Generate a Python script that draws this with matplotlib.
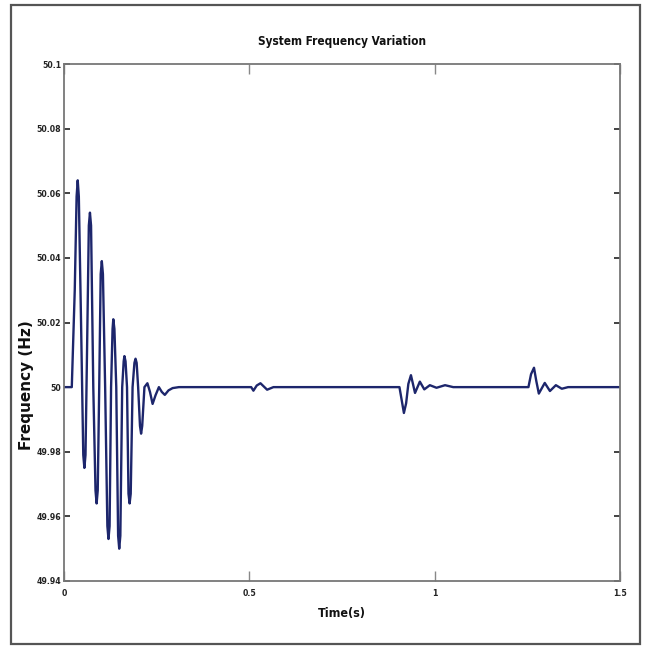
import numpy as np
import matplotlib
matplotlib.use("Agg")
import matplotlib.pyplot as plt
from matplotlib.patches import Rectangle

# values (time in s, frequency in Hz)
time_s = [0.0, 0.021, 0.029, 0.034, 0.037, 0.040, 0.046, 0.052, 0.055, 0.058,
          0.062, 0.067, 0.070, 0.073, 0.079, 0.085, 0.088, 0.091, 0.095, 0.099,
          0.102, 0.105, 0.111, 0.117, 0.120, 0.123, 0.127, 0.131, 0.133, 0.136,
          0.141, 0.146, 0.149, 0.152, 0.157, 0.161, 0.163, 0.166, 0.170, 0.174,
          0.177, 0.180, 0.185, 0.190, 0.193, 0.196, 0.200, 0.205, 0.208, 0.211,
          0.217, 0.225, 0.232, 0.239, 0.247, 0.256, 0.264, 0.272, 0.282, 0.293,
          0.31, 0.505, 0.511, 0.520, 0.530, 0.548, 0.565,
          0.905, 0.911, 0.917, 0.923, 0.929, 0.936, 0.947, 0.960, 0.972, 0.987,
          1.005, 1.028, 1.05,
          1.253, 1.260, 1.268, 1.274, 1.281, 1.297, 1.311, 1.327, 1.343, 1.36,
          1.5]
freq_hz = [50.0, 50.0, 50.03, 50.059, 50.064, 50.059, 50.02, 49.979, 49.975, 49.979,
           50.01, 50.05, 50.054, 50.05, 50.0, 49.968, 49.964, 49.968, 50.0, 50.035,
           50.039, 50.035, 50.0, 49.957, 49.953, 49.957, 50.0, 50.018, 50.021, 50.018,
           50.0, 49.954, 49.950, 49.954, 50.0, 50.008, 50.0096, 50.008, 50.0, 49.967,
           49.964, 49.967, 50.0, 50.0075, 50.0088, 50.0075, 50.0, 49.988, 49.9856, 49.988,
           50.0, 50.0012, 49.9985, 49.9948, 49.9975, 50.0, 49.9985, 49.9976, 49.999, 49.9997,
           50.0, 50.0, 49.9989, 50.0005, 50.0012, 49.9992, 50.0,
           50.0, 49.996, 49.992, 49.995, 50.001, 50.0037, 49.9982, 50.0017, 49.9993, 50.0006,
           49.9998, 50.0006, 50.0,
           50.0, 50.004, 50.006, 50.002, 49.998, 50.0013, 49.9988, 50.0006, 49.9995, 50.0,
           50.0]

x_ticks = [0, 0.5, 1, 1.5]
x_tick_labels = ["0", "0.5", "1", "1.5"]
y_ticks = [49.94, 49.96, 49.98, 50.0, 50.02, 50.04, 50.06, 50.08, 50.1]
y_tick_labels = ["49.94", "49.96", "49.98", "50", "50.02", "50.04", "50.06", "50.08", "50.1"]

narrow = ["DejaVu Sans"]

fig = plt.figure(figsize=(6.48, 6.46), dpi=100)
fig.patch.set_facecolor("white")

# outer frame around the whole picture
frame = Rectangle((11 / 648, 1 - 644 / 646), 629 / 648, 639 / 646,
                  transform=fig.transFigure, fill=False, edgecolor="#555555", linewidth=1.6)
fig.patches.append(frame)

ax = fig.add_axes([64 / 648, 1 - 581 / 646, 556 / 648, 517 / 646])
ax.plot(time_s, freq_hz, color="#1d266c", linewidth=1.7, solid_joinstyle="round")

ax.set_xlim(0, 1.5)
ax.set_ylim(49.94, 50.1)
ax.set_xticks(x_ticks)
ax.set_xticklabels(x_tick_labels, fontfamily=narrow, fontstretch="condensed",
                   fontsize=6.2, fontweight="bold")
ax.set_yticks(y_ticks)
ax.set_yticklabels(y_tick_labels, fontfamily=narrow, fontstretch="condensed",
                   fontsize=6.2, fontweight="bold")

ax.tick_params(axis="x", direction="in", length=7, width=1, color="#888888",
               top=True, bottom=True, pad=6, labelcolor="#222222")
ax.tick_params(axis="y", direction="in", length=4, width=1.2, color="#222222",
               left=True, right=True, pad=2, labelcolor="#222222")

for side in ["top", "right", "bottom", "left"]:
    ax.spines[side].set_color("#777777")
    ax.spines[side].set_linewidth(1.3)

ax.set_title("System Frequency Variation", fontfamily=narrow, fontstretch="condensed",
             fontsize=8.5, fontweight="bold", pad=14, color="#111111")
ax.set_xlabel("Time(s)", fontfamily=narrow, fontstretch="condensed",
              fontsize=9, fontweight="bold", color="#111111")
ax.xaxis.set_label_coords(0.5, -0.05)
ax.set_ylabel("Frequency (Hz)", fontfamily="DejaVu Sans", fontsize=11,
              fontweight="bold", color="#111111")
ax.yaxis.set_label_coords(-0.054, 0.379)

fig.savefig("out.png", dpi=100)
